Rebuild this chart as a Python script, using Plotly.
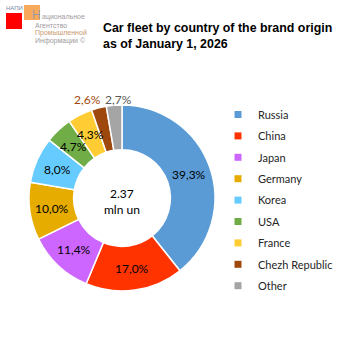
import math
import plotly.graph_objects as go

countries = ["Russia", "China", "Japan", "Germany", "Korea", "USA", "France", "Chezh Republic", "Other"]
shares = [39.3, 17.0, 11.4, 10.0, 8.0, 4.7, 4.3, 2.6, 2.7]
colors = ["#5B9BD5", "#FF3300", "#CC66FF", "#E6AC00", "#66CCFF", "#70AD47", "#FFCC33", "#9E480E", "#A5A5A5"]
label_pos = ["in", "in", "in", "in", "in", "in", "in", "out", "out"]
title_lines = ["Car fleet by country of the brand origin", "as of January 1, 2026"]
center_lines = ["2.37", "mln un"]

W = H = 338
cx, cy, R = 122, 198, 93
hole = 0.52


def px(x):
    return x / W


def py(y):
    return 1 - y / H


fig = go.Figure()
fig.add_trace(go.Pie(
    labels=countries, values=shares, sort=False, direction="clockwise",
    hole=hole, marker=dict(colors=colors, line=dict(color="white", width=1.5)),
    textinfo="none", showlegend=False, hoverinfo="label+value",
    domain=dict(x=[px(cx - R), px(cx + R)], y=[py(cy + R), py(cy - R)]),
))

# legend via dummy square markers
for c, col in zip(countries, colors):
    fig.add_trace(go.Scatter(
        x=[None], y=[None], mode="markers", name=c, legendgroup=c,
        marker=dict(symbol="square", size=7, color=col),
    ))

annotations = []
cum = 0
rmid = R * (1 + hole) / 2
out_dx = {"Chezh Republic": -9, "Other": 5}
for c, v, col, pos in zip(countries, shares, colors, label_pos):
    ang = math.radians(360 * (cum + v / 2) / 100)
    cum += v
    txt = f"{v:.1f}%".replace(".", ",")
    if pos == "in":
        x = cx + rmid * math.sin(ang)
        y = cy - rmid * math.cos(ang)
        fc = "black"
    else:
        r = R + 8
        x = cx + r * math.sin(ang) + out_dx.get(c, 0)
        y = 99
        fc = col if c != "Other" else "#595959"
    annotations.append(dict(x=px(x), y=py(y), xref="paper", yref="paper", text=txt,
                            showarrow=False, xanchor="center", yanchor="middle",
                            font=dict(family="Lato", size=12, color=fc)))

annotations.append(dict(x=px(cx), y=py(201), xref="paper", yref="paper",
                        text="<br>".join(center_lines), showarrow=False,
                        xanchor="center", yanchor="middle",
                        font=dict(family="Lato", size=12, color="black")))

annotations.append(dict(x=px(101), y=py(19), xref="paper", yref="paper",
                        text="<b>" + "<br>".join(title_lines) + "</b>", showarrow=False,
                        xanchor="left", yanchor="top", align="left",
                        font=dict(family="Liberation Sans", size=12.4, color="black")))

# logo
annotations.append(dict(x=px(5), y=py(8.5), xref="paper", yref="paper", text="НАПИ",
                        showarrow=False, xanchor="left", yanchor="middle", borderpad=0,
                        font=dict(family="Liberation Sans", size=6, color="#7a8aa8")))
annotations.append(dict(x=px(31), y=py(15), xref="paper", yref="paper", text="Н",
                        showarrow=False, xanchor="left", yanchor="middle", borderpad=0,
                        font=dict(family="Liberation Sans", size=12, color="#9a9aa6")))
logo_lines = [("ациональное", "#a09aa0", 41), ("Агентство", "#a09aa0", 34),
              ("Промышленной", "#c89a70", 34), ("Информации ©", "#a09aa0", 34)]
for i, (t, col, x0) in enumerate(logo_lines):
    annotations.append(dict(x=px(x0), y=py(17 + 8 * i), xref="paper", yref="paper", text=t,
                            showarrow=False, xanchor="left", yanchor="middle", borderpad=0,
                            font=dict(family="Liberation Sans", size=7, color=col)))

shapes = [
    dict(type="rect", xref="paper", yref="paper", x0=px(6), x1=px(22), y0=py(29), y1=py(13),
         fillcolor="#FF0000", line=dict(width=0)),
    dict(type="rect", xref="paper", yref="paper", x0=px(24), x1=px(40), y0=py(20), y1=py(5),
         fillcolor="#F7A048", line=dict(width=0), opacity=0.9, layer="below"),
]

fig.update_layout(
    width=W, height=H, margin=dict(l=0, r=0, t=0, b=0),
    paper_bgcolor="white", plot_bgcolor="white",
    xaxis=dict(visible=False), yaxis=dict(visible=False),
    annotations=annotations, shapes=shapes,
    legend=dict(x=px(218), y=py(100), xanchor="left", yanchor="top",
                font=dict(family="Lato", size=11, color="#262626"),
                tracegroupgap=2.4, bgcolor="rgba(0,0,0,0)", itemclick=False),
    showlegend=True,
)

fig.write_html("out.html")
